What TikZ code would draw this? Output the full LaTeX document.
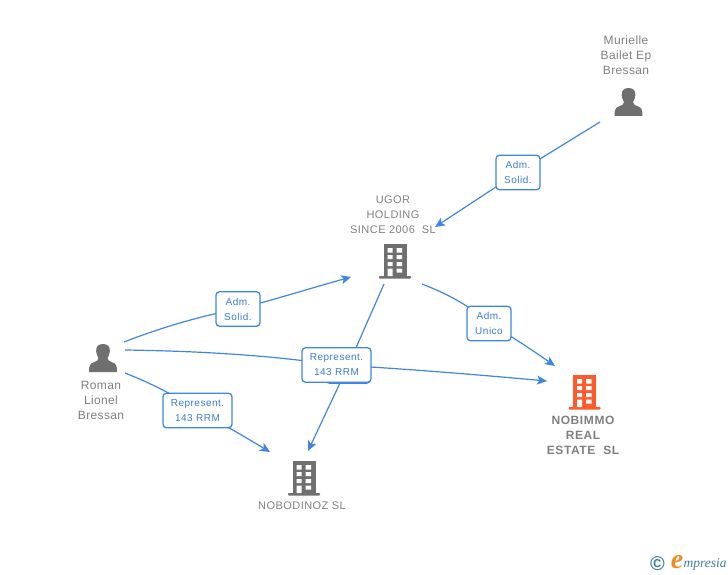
\documentclass[tikz,border=0pt]{standalone}
\usepackage{fontspec}
\setmainfont{Liberation Sans}
\newfontfamily\logofont{Liberation Serif}
\usetikzlibrary{arrows.meta}
\definecolor{linkblue}{HTML}{3F86E2}
\definecolor{labelblue}{HTML}{3A7BD5}
\definecolor{icongray}{HTML}{6F6F6F}
\definecolor{textgray}{HTML}{808080}
\definecolor{hotorange}{HTML}{FF5A2C}
\definecolor{logoteal}{HTML}{3F7F98}
\definecolor{logoorange}{HTML}{F08A24}
\tikzset{
  link/.style={draw=linkblue,line width=1.2pt},
  linkarrow/.style={link,-{Stealth[length=10pt,width=9pt,inset=2.5pt]}},
  linklabel/.style={draw=linkblue,line width=1.3pt,fill=white,rounded corners=3.5pt,align=center,
    text=labelblue,font=\fontsize{10}{15}\selectfont\addfontfeature{LetterSpace=5},inner sep=0pt},
  admbox/.style={linklabel,minimum width=44pt,minimum height=34.5pt},
  repbox/.style={linklabel,minimum width=69pt,minimum height=34.5pt},
  caption/.style={align=center,text=textgray,font=\fontsize{12}{15}\selectfont\addfontfeature{LetterSpace=3},inner sep=0pt},
  companycap/.style={align=center,text=textgray,font=\fontsize{11}{15}\selectfont\addfontfeature{LetterSpace=4},inner sep=0pt},
  hotcap/.style={align=center,text=textgray,font=\fontsize{12}{15}\selectfont\bfseries\addfontfeature{LetterSpace=5},inner sep=0pt},
  pics/building/.style={code={
    \fill[#1] (-11.5,0) rectangle (11.5,32);
    \fill[#1,rounded corners=0.8pt] (-16,32) rectangle (16,34.5);
    \fill[white]
      (-7.5,4) rectangle (-2.5,8.5) (1.7,4) rectangle (7,8.5)
      (-7.5,11) rectangle (-2.5,15) (1.7,11) rectangle (7,15)
      (-7.5,18) rectangle (-2.5,22) (1.7,18) rectangle (7,22)
      (-7.5,24.5) rectangle (-2.5,32) (1.7,24.5) rectangle (7,28.5);
  }},
  pics/person/.style={code={
    \fill[icongray] (0,0) .. controls (-5.5,0) and (-7.2,3.5) .. (-6.8,7.5)
      .. controls (-6.5,10.5) and (-5.6,12.5) .. (-4.6,14)
      .. controls (-4.6,16) and (-6,17.2) .. (-9,18.2)
      .. controls (-12.8,19.5) and (-14,21) .. (-14,28)
      -- (14,28)
      .. controls (14,21) and (12.8,19.5) .. (9,18.2)
      .. controls (6,17.2) and (4.6,16) .. (4.6,14)
      .. controls (5.6,12.5) and (6.5,10.5) .. (6.8,7.5)
      .. controls (7.2,3.5) and (5.5,0) .. (0,0) -- cycle;
  }}
}
\begin{document}
\begin{tikzpicture}[x=1pt,y=-1pt]
\useasboundingbox (0,0) rectangle (728,575);

% connector ends
\coordinate (muriOut) at (600,122);
\coordinate (ugorInA) at (435,227);
\coordinate (romanOutA) at (124,342);
\coordinate (ugorInB) at (351,277);
\coordinate (ugorOutA) at (422,284);
\coordinate (nobiInA) at (555,366);
\coordinate (romanOutB) at (125,350);
\coordinate (nobiInB) at (547,381);
\coordinate (ugorOutB) at (384,284);
\coordinate (nodiInA) at (308,451);
\coordinate (romanOutC) at (125,373);
\coordinate (nodiInB) at (270,452);

% label positions
\coordinate (posA) at (518,172.5);
\coordinate (posB) at (238,309);
\coordinate (posC) at (489,323.5);
\coordinate (posD) at (336.5,365);
\coordinate (posE) at (348,366);
\coordinate (posF) at (197.5,410.5);

% connectors
\draw[link] (muriOut) -- (posA);
\draw[linkarrow] (posA) -- (ugorInA);
\draw[link] (romanOutA) .. controls (160,328) and (200,316) .. (posB);
\draw[linkarrow] (posB) .. controls (280,298) and (315,287) .. (ugorInB);
\draw[link] (ugorOutA) .. controls (450,295) and (470,306) .. (posC);
\draw[linkarrow] (posC) .. controls (510,335) and (535,352) .. (nobiInA);
\draw[link] (romanOutB) .. controls (190,351) and (260,354) .. (posD);
\draw[linkarrow] (posD) .. controls (410,369) and (480,375) .. (nobiInB);
\draw[link] (ugorOutB) -- (posE);
\draw[linkarrow] (posE) -- (nodiInA);
\draw[link] (romanOutC) .. controls (145,381) and (170,392) .. (posF);
\draw[linkarrow] (posF) .. controls (225,425) and (250,440) .. (nodiInB);

% labels
\node[admbox] (lblMuri) at (posA) {Adm.\\Solid.};
\node[admbox] (lblRoman) at (posB) {Adm.\\Solid.};
\node[admbox] (lblUnico) at (posC) {Adm.\\Unico};
\node[admbox] (lblHidden) at (posE) {};
\node[repbox] (lblRepMain) at (posD) {Represent.\\143 RRM};
\node[repbox] (lblRepLeft) at (posF) {Represent.\\143 RRM};

% icons
\pic (iconMuri) at (628.5,88) {person};
\pic (iconRoman) at (103,344) {person};
\pic (iconUgor) at (395,244) {building=icongray};
\pic (iconNobi) at (584.5,375) {building=hotorange};
\pic (iconNodi) at (304,461) {building=icongray};

% captions
\node[caption] (capMuri) at (626,55) {Murielle\\Bailet Ep\\Bressan};
\node[caption] (capRoman) at (101,400) {Roman\\Lionel\\Bressan};
\node[companycap] (capUgor) at (393,215) {UGOR\\HOLDING\\SINCE 2006\ \ SL};
\node[hotcap] (capNobi) at (583,435) {NOBIMMO\\REAL\\ESTATE\ \ SL};
\node[companycap] (capNodi) at (302,506) {NOBODINOZ SL};

% logo
\node[text=logoteal,font=\fontsize{20}{20}\selectfont\bfseries,inner sep=0pt] (logoC) at (657.5,564) {©};
\node[text=logoorange,font=\logofont\itshape\bfseries\fontsize{28}{28}\selectfont,inner sep=0pt] (logoE) at (677,562.5) {e};
\node[text=logoteal,font=\logofont\itshape\fontsize{13.5}{14}\selectfont,inner sep=0pt,anchor=west] (logoT) at (683.5,564.5) {mpresia};
\end{tikzpicture}
\end{document}
